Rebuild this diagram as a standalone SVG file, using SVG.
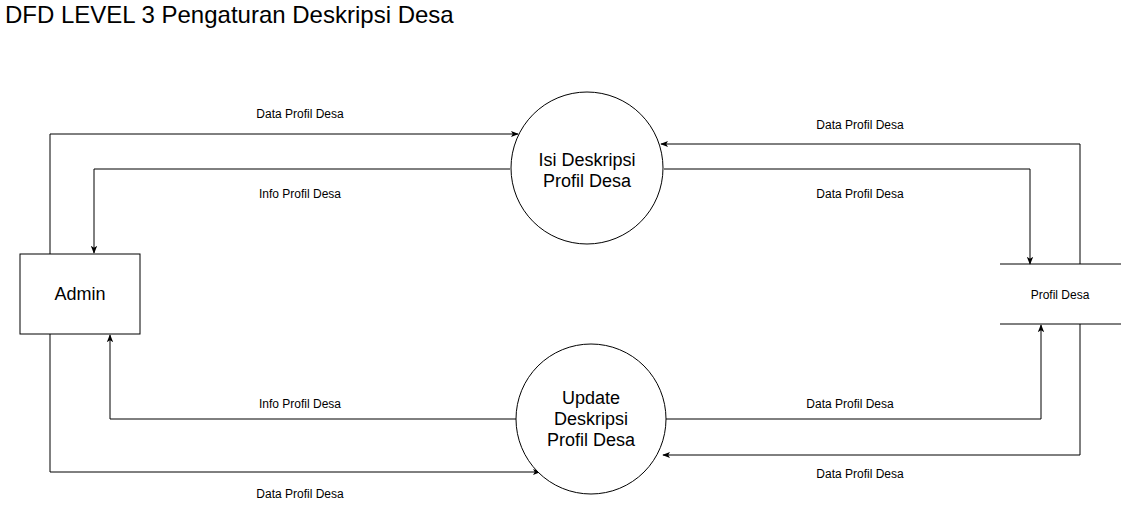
<svg xmlns="http://www.w3.org/2000/svg" width="1121" height="505" viewBox="0 0 1121 505">
<style>
.t{font-family:"Liberation Sans",Arial,sans-serif;fill:#000;text-anchor:middle}
.lbl{font-size:12px}
.nd{font-size:18px}
.ln{fill:none;stroke:#000;stroke-width:1}
.shape{fill:#fff;stroke:#000;stroke-width:1}
</style>
<defs>
<marker id="arr" viewBox="0 0 10 10" refX="9" refY="5" markerWidth="8" markerHeight="8" markerUnits="userSpaceOnUse" orient="auto">
<path d="M0,1 L10,5 L0,9 L2.5,5 Z" fill="#000"/>
</marker>
</defs>
<rect width="1121" height="505" fill="#fff"/>
<text x="5" y="23" style="font-family:'Liberation Sans',Arial,sans-serif;font-size:24px">DFD LEVEL 3 Pengaturan Deskripsi Desa</text>
<g id="connectors">
<path class="ln" d="M50,254 V134 H518" marker-end="url(#arr)"/>
<path class="ln" d="M510,169 H94 V253" marker-end="url(#arr)"/>
<path class="ln" d="M1080,264 V144 H661" marker-end="url(#arr)"/>
<path class="ln" d="M664,169 H1030 V264" marker-end="url(#arr)"/>
<path class="ln" d="M516,419 H110 V335" marker-end="url(#arr)"/>
<path class="ln" d="M50,334 V472 H540" marker-end="url(#arr)"/>
<path class="ln" d="M666,419 H1041 V325" marker-end="url(#arr)"/>
<path class="ln" d="M1080,324 V455 H663" marker-end="url(#arr)"/>
<text class="t lbl" x="300" y="118">Data Profil Desa</text>
<text class="t lbl" x="300" y="198">Info Profil Desa</text>
<text class="t lbl" x="860" y="129">Data Profil Desa</text>
<text class="t lbl" x="860" y="198">Data Profil Desa</text>
<text class="t lbl" x="300" y="408">Info Profil Desa</text>
<text class="t lbl" x="300" y="498">Data Profil Desa</text>
<text class="t lbl" x="850" y="408">Data Profil Desa</text>
<text class="t lbl" x="860" y="478">Data Profil Desa</text>
</g>
<g id="admin">
<rect class="shape" x="20" y="254" width="120" height="80"/>
<text class="t nd" x="80" y="300">Admin</text>
</g>
<g id="isi-deskripsi">
<circle class="shape" cx="587" cy="168" r="76"/>
<text class="t nd" x="587" y="166">Isi Deskripsi</text>
<text class="t nd" x="587" y="187">Profil Desa</text>
</g>
<g id="update-deskripsi">
<circle class="shape" cx="591" cy="419" r="75"/>
<text class="t nd" x="591" y="404">Update</text>
<text class="t nd" x="591" y="425">Deskripsi</text>
<text class="t nd" x="591" y="446">Profil Desa</text>
</g>
<g id="profil-desa-store">
<line class="ln" x1="1000" y1="264" x2="1121" y2="264"/>
<line class="ln" x1="1000" y1="324" x2="1121" y2="324"/>
<text class="t lbl" x="1060" y="299">Profil Desa</text>
</g>
</svg>
